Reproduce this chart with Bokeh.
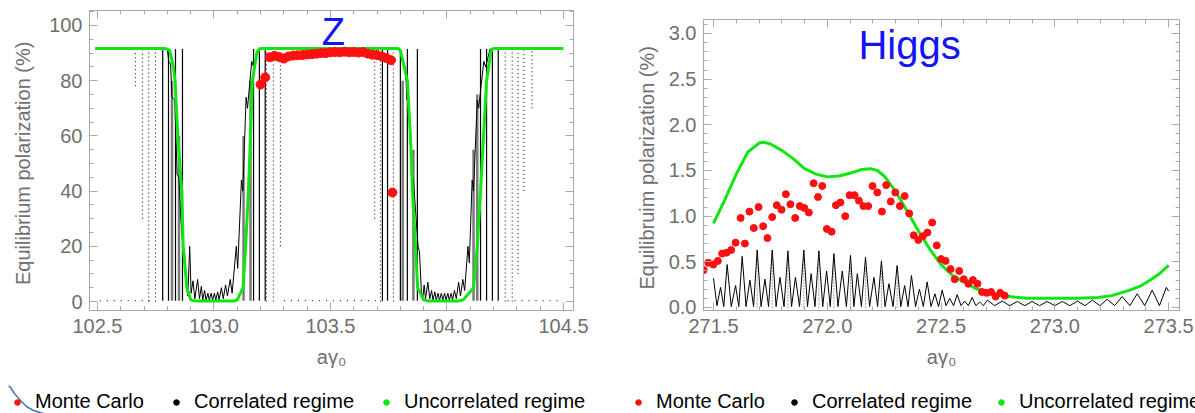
from bokeh.plotting import figure
from bokeh.layouts import row, column
from bokeh.models import (Range1d, LinearAxis, SingleIntervalTicker, NumeralTickFormatter,
                          CustomJSTickFormatter, Legend, LegendItem, Label)
from bokeh.embed import file_html
from bokeh.resources import INLINE

# ---------------- data: Z panel ----------------
z_unc_x = [102.49, 102.79, 102.81, 102.826, 102.833, 102.845, 102.862, 102.868, 102.884, 102.90, 102.92,
           103.09, 103.10, 103.125, 103.136, 103.148, 103.157, 103.165, 103.185, 103.20,
           103.79, 103.80, 103.83, 103.843, 103.852, 103.865, 103.874, 103.90, 103.92,
           104.05, 104.07, 104.114, 104.13, 104.144, 104.157, 104.17, 104.19, 104.2, 104.5]
z_unc_y = [91.7, 91.7, 91.0, 85.0, 80.0, 60.0, 40.0, 20.0, 5.0, 0.6, 0.2,
           0.2, 0.6, 5.0, 20.0, 40.0, 60.0, 80.0, 90.5, 91.7,
           91.7, 91.0, 80.0, 60.0, 40.0, 20.0, 5.0, 0.6, 0.2,
           0.2, 0.6, 5.0, 20.0, 40.0, 60.0, 80.0, 91.0, 91.7, 91.7]

z_corr_x = [102.76, 102.800, 102.806, 102.814, 102.820, 102.832, 102.842, 102.850, 102.858, 102.866, 102.874,
            102.880, 102.888, 102.896, 102.902, 102.910, 102.918, 102.930, 102.938, 102.946, 102.952,
            102.960, 102.966, 102.974, 102.980, 102.988, 102.994, 103.002, 103.008, 103.016, 103.022,
            103.032, 103.040, 103.050, 103.058, 103.070, 103.078, 103.096, 103.102, 103.118, 103.124,
            103.138, 103.144, 103.162, 103.170, 103.190, 103.24]
z_corr_y = [91.5, 91.5, 87.0, 86.0, 74.0, 73.0, 46.0, 45.0, 30.0, 21.0, 18.0,
            6.0, 2.0, 20.0, 3.0, 7.5, 1.0, 8.0, 1.0, 5.5, 0.5,
            4.0, 0.5, 3.0, 0.5, 3.0, 0.5, 3.0, 0.5, 3.5, 0.5,
            5.0, 1.0, 6.0, 2.0, 8.0, 3.0, 20.0, 12.0, 44.0, 40.0,
            74.0, 70.0, 87.0, 85.0, 91.5, 91.5]
z_corr2_x = [103.79, 103.805, 103.813, 103.822, 103.828, 103.838, 103.848, 103.856, 103.866, 103.876, 103.882,
             103.890, 103.896, 103.902, 103.908, 103.918, 103.926, 103.934, 103.940, 103.948, 103.954,
             103.962, 103.968, 103.976, 103.982, 103.990, 103.996, 104.004, 104.010, 104.018, 104.024,
             104.032, 104.040, 104.050, 104.058, 104.068, 104.076, 104.090, 104.096, 104.108, 104.114,
             104.130, 104.136, 104.158, 104.166, 104.185, 104.25]
z_corr2_y = [91.5, 90.0, 86.0, 85.0, 73.0, 72.0, 46.0, 44.0, 32.0, 20.0, 18.0,
             4.0, 1.0, 6.0, 1.0, 7.0, 1.0, 4.0, 0.5, 3.5, 0.5,
             3.0, 0.5, 3.0, 0.5, 3.0, 0.5, 3.0, 0.5, 3.0, 0.5,
             4.0, 1.0, 7.0, 2.0, 8.0, 4.0, 20.0, 14.0, 44.0, 40.0,
             73.0, 70.0, 87.0, 85.0, 91.5, 91.5]

z_spike_x = [102.780, 102.805, 102.835, 102.865, 103.170, 103.195, 103.220, 103.723,
             103.745, 103.800, 103.830, 103.873, 104.144, 104.170, 104.195, 104.220]
z_spike_lo = [0.3, 0.3, 0.3, 0.3, 0.3, 0.3, 0.3, 0.3,
              0.3, 0.3, 0.3, 0.3, 0.3, 0.3, 0.3, 0.3]
z_spike_top = [91.5, 91.5, 91.5, 91.5, 91.5, 91.5, 91.5, 91.5,
               91.5, 91.5, 91.5, 91.5, 91.5, 91.5, 91.5, 91.5]
z_gray_x = [102.820, 102.850, 103.127, 103.157, 103.810, 103.856, 104.114, 104.130]
z_gray_lo = [0.3, 0.3, 0.3, 0.3, 0.3, 0.3, 0.3, 0.3]
z_gray_top = [80.0, 60.0, 60.0, 80.0, 80.0, 55.0, 55.0, 75.0]

z_dot_x = [102.663, 102.693, 102.720, 102.749, 103.225, 103.255, 103.285, 103.690,
           103.715, 103.770, 104.250, 104.280, 104.305, 104.330, 104.365]
z_dot_lo = [78.0, 30.0, 0.0, 0.0, 0.0, 0.0, 20.0, 30.0, 0.0, 0.0, 0.0, 0.0, 10.0, 40.0, 70.0]
z_dot_hi = [91.0, 91.0, 91.0, 91.0, 91.0, 91.0, 91.0, 91.0, 91.0, 91.0, 91.0, 91.0, 91.0, 91.0, 91.0]
z_row_x0 = [102.51, 103.30, 104.26]
z_row_x1 = [102.75, 103.74, 104.50]
z_row_y = [0.3, 0.3, 0.3]

z_mc_x = [103.20, 103.22, 103.24, 103.26, 103.28, 103.30, 103.32, 103.34, 103.36, 103.38, 103.40,
          103.42, 103.44, 103.46, 103.48, 103.50, 103.52, 103.54, 103.56, 103.58, 103.60, 103.62,
          103.64, 103.66, 103.68, 103.70, 103.72, 103.74, 103.76, 103.766]
z_mc_y = [78.6, 81.2, 88.5, 89.0, 88.6, 88.0, 88.8, 89.1, 89.2, 89.3, 89.5,
          89.6, 89.8, 90.0, 90.0, 90.3, 90.4, 90.3, 90.5, 90.3, 90.4, 90.2,
          90.4, 89.8, 89.4, 89.3, 88.8, 88.2, 87.4, 39.5]

# ---------------- data: Higgs panel ----------------
h_unc_x = [271.5, 271.55, 271.6, 271.65, 271.7, 271.72, 271.75, 271.8, 271.85, 271.9, 271.95,
           272.0, 272.05, 272.1, 272.15, 272.19, 272.22, 272.25, 272.3, 272.35, 272.4, 272.45,
           272.5, 272.55, 272.6, 272.65, 272.7, 272.76, 272.8, 272.88, 273.0, 273.1, 273.19,
           273.25, 273.33, 273.38, 273.42, 273.46, 273.5]
h_unc_y = [0.92, 1.18, 1.46, 1.70, 1.80, 1.81, 1.79, 1.72, 1.63, 1.52, 1.46,
           1.43, 1.44, 1.47, 1.51, 1.52, 1.50, 1.44, 1.27, 1.06, 0.84, 0.64,
           0.47, 0.35, 0.28, 0.21, 0.17, 0.13, 0.12, 0.10, 0.10, 0.10, 0.11,
           0.13, 0.19, 0.24, 0.30, 0.37, 0.46]

h_corr_x = [271.5, 271.515, 271.531, 271.545, 271.56, 271.578, 271.597, 271.611, 271.626, 271.643,
            271.66, 271.676, 271.692, 271.709, 271.726, 271.742, 271.758, 271.775, 271.792, 271.81,
            271.827, 271.843, 271.86, 271.878, 271.897, 271.913, 271.929, 271.946, 271.963, 271.98,
            271.997, 272.013, 272.029, 272.047, 272.066, 272.084, 272.102, 272.117, 272.132, 272.15,
            272.168, 272.186, 272.205, 272.221, 272.238, 272.254, 272.271, 272.289, 272.307, 272.323,
            272.34, 272.355, 272.37, 272.388, 272.405, 272.422, 272.439, 272.456, 272.473, 272.489,
            272.505, 272.522, 272.538, 272.555, 272.571, 272.588, 272.604, 272.62, 272.637, 272.653,
            272.67, 272.686, 272.703, 272.736, 272.769, 272.802, 272.835, 272.868, 272.9, 272.933,
            272.966, 273.0, 273.033, 273.066, 273.1, 273.133, 273.165, 273.198, 273.23, 273.263,
            273.296, 273.33, 273.362, 273.395, 273.428, 273.46, 273.49, 273.5]
h_corr_y = [0.32, 0.02, 0.22, 0.01, 0.47, 0.01, 0.24, 0.01, 0.56, 0.01,
            0.30, 0.01, 0.63, 0.01, 0.31, 0.01, 0.63, 0.01, 0.33, 0.01,
            0.62, 0.01, 0.33, 0.01, 0.63, 0.01, 0.37, 0.01, 0.62, 0.01,
            0.40, 0.01, 0.59, 0.01, 0.40, 0.01, 0.57, 0.01, 0.37, 0.01,
            0.55, 0.01, 0.33, 0.01, 0.51, 0.01, 0.26, 0.01, 0.46, 0.01,
            0.24, 0.01, 0.35, 0.01, 0.20, 0.01, 0.28, 0.01, 0.15, 0.01,
            0.19, 0.02, 0.10, 0.02, 0.14, 0.02, 0.07, 0.02, 0.11, 0.02,
            0.06, 0.02, 0.08, 0.02, 0.07, 0.02, 0.066, 0.02, 0.066, 0.02,
            0.066, 0.02, 0.066, 0.02, 0.07, 0.02, 0.08, 0.02, 0.09, 0.02,
            0.12, 0.02, 0.15, 0.02, 0.19, 0.02, 0.22, 0.18]
h_dot_x = [271.692, 271.758, 271.827, 271.897, 271.963, 272.029, 272.102, 272.168, 272.238, 272.307]
h_dot_top = [0.55, 0.55, 0.55, 0.55, 0.50, 0.50, 0.45, 0.45, 0.40, 0.35]
h_dot_lo = [0.0, 0.0, 0.0, 0.0, 0.0, 0.0, 0.0, 0.0, 0.0, 0.0]

h_mc_x = [271.457, 271.477, 271.499, 271.519, 271.538, 271.557, 271.578, 271.597, 271.619, 271.638,
          271.658, 271.677, 271.698, 271.718, 271.737, 271.758, 271.778, 271.799, 271.818, 271.838,
          271.859, 271.879, 271.899, 271.919, 271.940, 271.959, 271.978, 271.998, 272.019, 272.038,
          272.058, 272.079, 272.098, 272.120, 272.139, 272.159, 272.180, 272.199, 272.220, 272.240,
          272.259, 272.279, 272.299, 272.319, 272.340, 272.360, 272.380, 272.400, 272.420, 272.440,
          272.461, 272.481, 272.500, 272.520, 272.542, 272.560, 272.580, 272.600, 272.620, 272.640,
          272.660, 272.680, 272.700, 272.720, 272.740, 272.760, 272.780]
h_mc_y = [0.41, 0.49, 0.47, 0.51, 0.59, 0.60, 0.63, 0.71, 0.98, 0.70,
          1.05, 0.87, 1.10, 0.89, 0.76, 0.99, 1.12, 1.07, 1.24, 1.13,
          0.98, 1.11, 1.09, 1.04, 1.36, 1.21, 1.33, 0.86, 0.83, 1.12,
          1.15, 1.00, 1.23, 1.23, 1.17, 1.11, 1.11, 1.33, 1.26, 1.05,
          1.34, 1.16, 1.26, 1.11, 1.22, 1.03, 0.79, 0.74, 0.78, 0.82,
          0.93, 0.68, 0.53, 0.51, 0.42, 0.31, 0.40, 0.31, 0.26, 0.30,
          0.26, 0.17, 0.16, 0.17, 0.12, 0.16, 0.13]

legend_labels = ["Monte Carlo", "Correlated regime", "Uncorrelated regime"]

# decorative slide arc (legend strip pixel coordinates, bottom-left corner)
deco_arc_x = [8, 10, 14, 20, 26, 33, 43]
deco_arc_y = [28, 26, 20, 13, 7, 3, 0]

# ---------------- styling ----------------
FONT = "Liberation Sans"
AXC = "#a8a8a8"
LBL = "#6f6f6f"
GREEN = "#12e612"
RED = "#ff1010"
BLUE = "#1414f5"


def setup_axes(p, xint, yint, yminor, yfmt, ylabel, ylab_standoff, xlab_standoff):
    p.xgrid.visible = False
    p.ygrid.visible = False
    p.outline_line_color = AXC
    bx = p.xaxis[0]
    ly = p.yaxis[0]
    bx.ticker = SingleIntervalTicker(interval=xint, num_minor_ticks=5)
    ly.ticker = SingleIntervalTicker(interval=yint, num_minor_ticks=yminor)
    bx.formatter = NumeralTickFormatter(format="0.0")
    ly.formatter = NumeralTickFormatter(format=yfmt)
    top = LinearAxis(ticker=SingleIntervalTicker(interval=xint, num_minor_ticks=5),
                     formatter=CustomJSTickFormatter(code="return ''"),
                     fixed_location=p.y_range.end)
    right = LinearAxis(ticker=SingleIntervalTicker(interval=yint, num_minor_ticks=yminor),
                       formatter=CustomJSTickFormatter(code="return ''"),
                       fixed_location=p.x_range.end)
    p.add_layout(top, "above")
    p.add_layout(right, "right")
    for ax in (bx, ly, top, right):
        ax.axis_line_color = AXC
        ax.major_tick_line_color = AXC
        ax.minor_tick_line_color = AXC
        ax.major_tick_in = 8
        ax.major_tick_out = 0
        ax.minor_tick_in = 4
        ax.minor_tick_out = 0
        ax.major_label_text_font = FONT
        ax.major_label_text_font_size = "20px"
        ax.major_label_text_color = LBL
    for ax in (top, right):
        ax.major_label_text_font_size = "0px"
        ax.major_label_standoff = 0
    bx.major_label_standoff = 8
    ly.major_label_standoff = 7
    bx.axis_label = "a\u03b3\u2080"
    ly.axis_label = ylabel
    for ax in (bx, ly):
        ax.axis_label_text_font = FONT
        ax.axis_label_text_font_size = "20px"
        ax.axis_label_text_font_style = "normal"
        ax.axis_label_text_color = LBL
    ly.axis_label_standoff = ylab_standoff
    bx.axis_label_standoff = xlab_standoff


def legend_fig(width, x0, spacing, arc=False):
    f = figure(width=width, height=28, x_range=Range1d(0, width), y_range=Range1d(0, 28), title=None,
               x_axis_location=None, y_axis_location=None, output_backend="svg",
               toolbar_location=None, min_border=0, outline_line_color=None)
    f.grid.visible = False
    if arc:
        f.line(deco_arc_x, deco_arc_y, line_color="#4a76b8", line_width=1.5)
    r1 = f.scatter(x=[-50], y=[-50], marker="circle", size=8, color=RED)
    r2 = f.scatter(x=[-50], y=[-50], marker="circle", size=8, color="black")
    r3 = f.scatter(x=[-50], y=[-50], marker="circle", size=8, color=GREEN)
    items = [LegendItem(label=legend_labels[0], renderers=[r1]),
             LegendItem(label=legend_labels[1], renderers=[r2]),
             LegendItem(label=legend_labels[2], renderers=[r3])]
    lg = Legend(items=items, orientation="horizontal", location=(x0, 0),
                label_text_font=FONT, label_text_font_size="20px", label_text_color="black",
                glyph_width=14, glyph_height=22, label_height=22, label_standoff=11, spacing=spacing,
                padding=0, margin=0, border_line_color=None, background_fill_alpha=0)
    f.add_layout(lg, "center")
    return f


# ---------------- left: Z ----------------
p1 = figure(width=600, height=385, x_range=Range1d(102.466, 104.543), y_range=Range1d(-3.26, 105.43),
            title=None, output_backend="svg", toolbar_location=None,
            min_border_left=89, min_border_right=27, min_border_top=10, min_border_bottom=75)
setup_axes(p1, 0.5, 20, 4, "0", "Equilibrium  polarization (%)", 12, 10)

p1.segment(x0=z_dot_x, y0=z_dot_lo, x1=z_dot_x, y1=z_dot_hi, line_color="black",
           line_width=1, line_dash="1 3")
p1.segment(x0=z_row_x0, y0=z_row_y, x1=z_row_x1, y1=z_row_y, line_color="black",
           line_width=1, line_dash="1 6")
p1.segment(x0=z_gray_x, y0=z_gray_lo, x1=z_gray_x, y1=z_gray_top,
           line_color="#7a7a7a", line_width=2.5)
p1.segment(x0=z_spike_x, y0=z_spike_lo, x1=z_spike_x, y1=z_spike_top,
           line_color="black", line_width=1.2)
p1.line(z_corr_x, z_corr_y, line_color="black", line_width=1)
p1.line(z_corr2_x, z_corr2_y, line_color="black", line_width=1)
p1.line(z_unc_x, z_unc_y, line_color=GREEN, line_width=3)
p1.scatter(z_mc_x, z_mc_y, marker="circle", size=9, color=RED)
p1.add_layout(Label(x=103.513, y=97.8, text="Z", text_color=BLUE, text_font=FONT,
                    text_font_size="38px", text_align="center", text_baseline="alphabetic"))

# ---------------- right: Higgs ----------------
p2 = figure(width=595, height=376, x_range=Range1d(271.456, 273.548), y_range=Range1d(-0.033, 3.153),
            title=None, output_backend="svg", toolbar_location=None,
            min_border_left=103, min_border_right=16, min_border_top=10, min_border_bottom=75)
p2.margin = (9, 0, 0, 0)
setup_axes(p2, 0.5, 0.5, 5, "0.0", "Equilibruim  polarization (%)", 8, 10)

p2.segment(x0=h_dot_x, y0=h_dot_lo, x1=h_dot_x, y1=h_dot_top, line_color="#555555",
           line_width=1, line_dash="1 2")
p2.line(h_corr_x, h_corr_y, line_color="black", line_width=1)
p2.line(h_unc_x, h_unc_y, line_color=GREEN, line_width=3)
p2.scatter(h_mc_x, h_mc_y, marker="circle", size=7, color=RED)
p2.add_layout(Label(x=272.137, y=2.87, text="Higgs", text_color=BLUE, text_font=FONT,
                    text_font_size="40px", text_align="left", text_baseline="alphabetic"))

l1 = legend_fig(600, 10, 25, arc=True)
l2 = legend_fig(595, 31, 22)

layout = column(row(p1, p2), row(l1, l2))
open("out.html", "w").write(file_html(layout, INLINE))
